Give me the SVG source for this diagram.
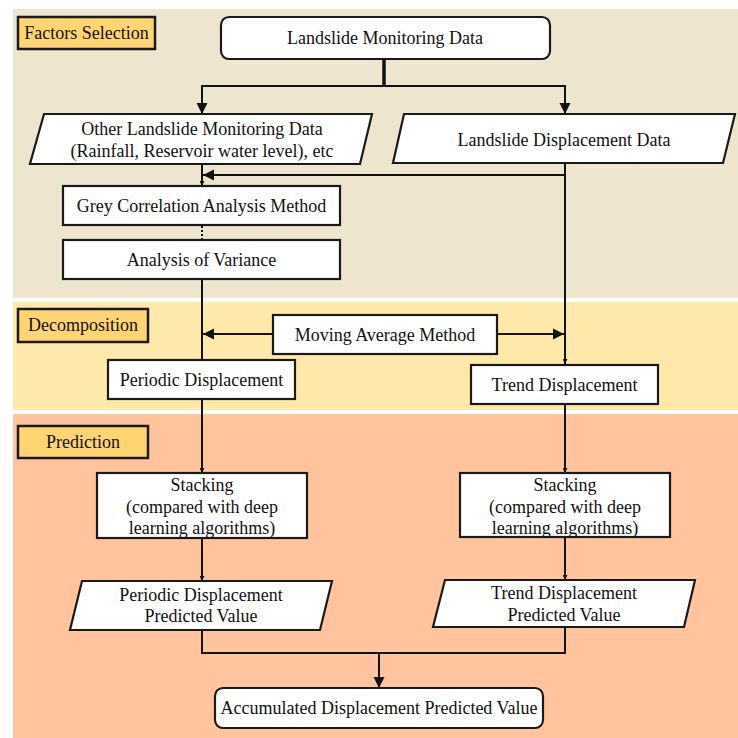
<svg xmlns="http://www.w3.org/2000/svg" width="738" height="738" viewBox="0 0 738 738">
<style>
.bg1{fill:#EEE5CE}
.bg2{fill:#FFE9AA}
.bg3{fill:#FFC49E}
.lbl{fill:#FFD571;stroke:#1a1a1a;stroke-width:2.5}
.box{fill:#ffffff;stroke:#1a1a1a;stroke-width:2.2}
.t{font-family:"Liberation Serif","Times New Roman",serif;font-size:18px;fill:#111;text-anchor:middle}
.ln{fill:none;stroke:#111;stroke-width:2}
</style>
<defs>
<marker id="big" viewBox="0 0 10 10" refX="10" refY="5" markerWidth="11" markerHeight="12" markerUnits="userSpaceOnUse" orient="auto">
<path d="M0,0 L10,5 L0,10 z" fill="#111"/>
</marker>
<marker id="sm" viewBox="0 0 10 10" refX="10" refY="5" markerWidth="5" markerHeight="5" markerUnits="userSpaceOnUse" orient="auto">
<path d="M0,0 L10,5 L0,10 z" fill="#111"/>
</marker>
</defs>
<rect x="0" y="0" width="738" height="738" fill="#ffffff"/>
<g id="bands">
<rect class="bg1" x="13" y="9" width="725" height="289"/>
<rect class="bg2" x="13" y="302" width="725" height="108"/>
<rect class="bg3" x="13" y="414" width="725" height="324"/>
</g>
<g id="connectors">
<line class="ln" x1="384" y1="59" x2="384" y2="86" style="stroke-width:3.5"/>
<line class="ln" x1="201" y1="86" x2="566" y2="86"/>
<line class="ln" x1="202" y1="86" x2="202" y2="114" marker-end="url(#big)"/>
<line class="ln" x1="565" y1="86" x2="565" y2="114" marker-end="url(#big)"/>
<line class="ln" x1="202" y1="164" x2="202" y2="186" marker-end="url(#sm)"/>
<line class="ln" x1="565" y1="164" x2="565" y2="364" marker-end="url(#sm)"/>
<line class="ln" x1="565" y1="175" x2="203" y2="175" marker-end="url(#big)"/>
<line class="ln" x1="202" y1="226" x2="202" y2="240" stroke-dasharray="2,2"/>
<line class="ln" x1="202" y1="279" x2="202" y2="360"/>
<line class="ln" x1="273" y1="334" x2="203" y2="334" marker-end="url(#big)"/>
<line class="ln" x1="497" y1="334" x2="564" y2="334" marker-end="url(#big)"/>
<line class="ln" x1="202" y1="399" x2="202" y2="473" marker-end="url(#sm)"/>
<line class="ln" x1="565" y1="404" x2="565" y2="473" marker-end="url(#sm)"/>
<line class="ln" x1="202" y1="538" x2="202" y2="581" marker-end="url(#sm)"/>
<line class="ln" x1="565" y1="537" x2="565" y2="580" marker-end="url(#sm)"/>
<polyline class="ln" points="202,630 202,653 565,653 565,627"/>
<line class="ln" x1="379" y1="653" x2="379" y2="688" marker-end="url(#big)"/>
</g>
<g id="label-factors">
<rect class="lbl" x="18" y="17" width="137" height="32"/>
<text class="t" x="86.5" y="39">Factors Selection</text>
</g>
<g id="label-decomposition">
<rect class="lbl" x="18" y="309" width="130" height="33"/>
<text class="t" x="83" y="331">Decomposition</text>
</g>
<g id="label-prediction">
<rect class="lbl" x="18" y="426" width="130" height="32"/>
<text class="t" x="83" y="448">Prediction</text>
</g>
<g id="node-monitoring">
<rect class="box" x="221" y="17" width="329" height="42" rx="8"/>
<text class="t" x="385" y="44">Landslide Monitoring Data</text>
</g>
<g id="node-other">
<polygon class="box" points="44,114 372,114 360,164 30,164"/>
<text class="t" x="202" y="135">Other Landslide Monitoring Data</text>
<text class="t" x="202" y="157">(Rainfall, Reservoir water level), etc</text>
</g>
<g id="node-displacement">
<polygon class="box" points="404,114 735,114 723,163 393,163"/>
<text class="t" x="564" y="146">Landslide Displacement Data</text>
</g>
<g id="node-grey">
<rect class="box" x="63" y="186" width="277" height="39"/>
<text class="t" x="201.5" y="212">Grey Correlation Analysis Method</text>
</g>
<g id="node-anova">
<rect class="box" x="63" y="240" width="277" height="39"/>
<text class="t" x="201.5" y="266">Analysis of Variance</text>
</g>
<g id="node-moving">
<rect class="box" x="273" y="315" width="224" height="39"/>
<text class="t" x="385" y="341">Moving Average Method</text>
</g>
<g id="node-periodic">
<rect class="box" x="108" y="360" width="187" height="39"/>
<text class="t" x="201.5" y="386">Periodic Displacement</text>
</g>
<g id="node-trend">
<rect class="box" x="471" y="365" width="187" height="39"/>
<text class="t" x="564.5" y="391">Trend Displacement</text>
</g>
<g id="node-stack-left">
<rect class="box" x="97" y="473" width="210" height="65"/>
<text class="t" x="202" y="491">Stacking</text>
<text class="t" x="202" y="513">(compared with deep</text>
<text class="t" x="202" y="534">learning algorithms)</text>
</g>
<g id="node-stack-right">
<rect class="box" x="460" y="473" width="210" height="64"/>
<text class="t" x="565" y="491">Stacking</text>
<text class="t" x="565" y="513">(compared with deep</text>
<text class="t" x="565" y="534">learning algorithms)</text>
</g>
<g id="node-periodic-pred">
<polygon class="box" points="82,581 332,581 320,630 70,630"/>
<text class="t" x="201" y="601">Periodic Displacement</text>
<text class="t" x="201" y="622">Predicted Value</text>
</g>
<g id="node-trend-pred">
<polygon class="box" points="445,580 695,580 684,627 433,627"/>
<text class="t" x="564" y="599">Trend Displacement</text>
<text class="t" x="564" y="621">Predicted Value</text>
</g>
<g id="node-accumulated">
<rect class="box" x="215" y="688" width="328" height="40" rx="8"/>
<text class="t" x="379" y="714">Accumulated Displacement Predicted Value</text>
</g>
</svg>
